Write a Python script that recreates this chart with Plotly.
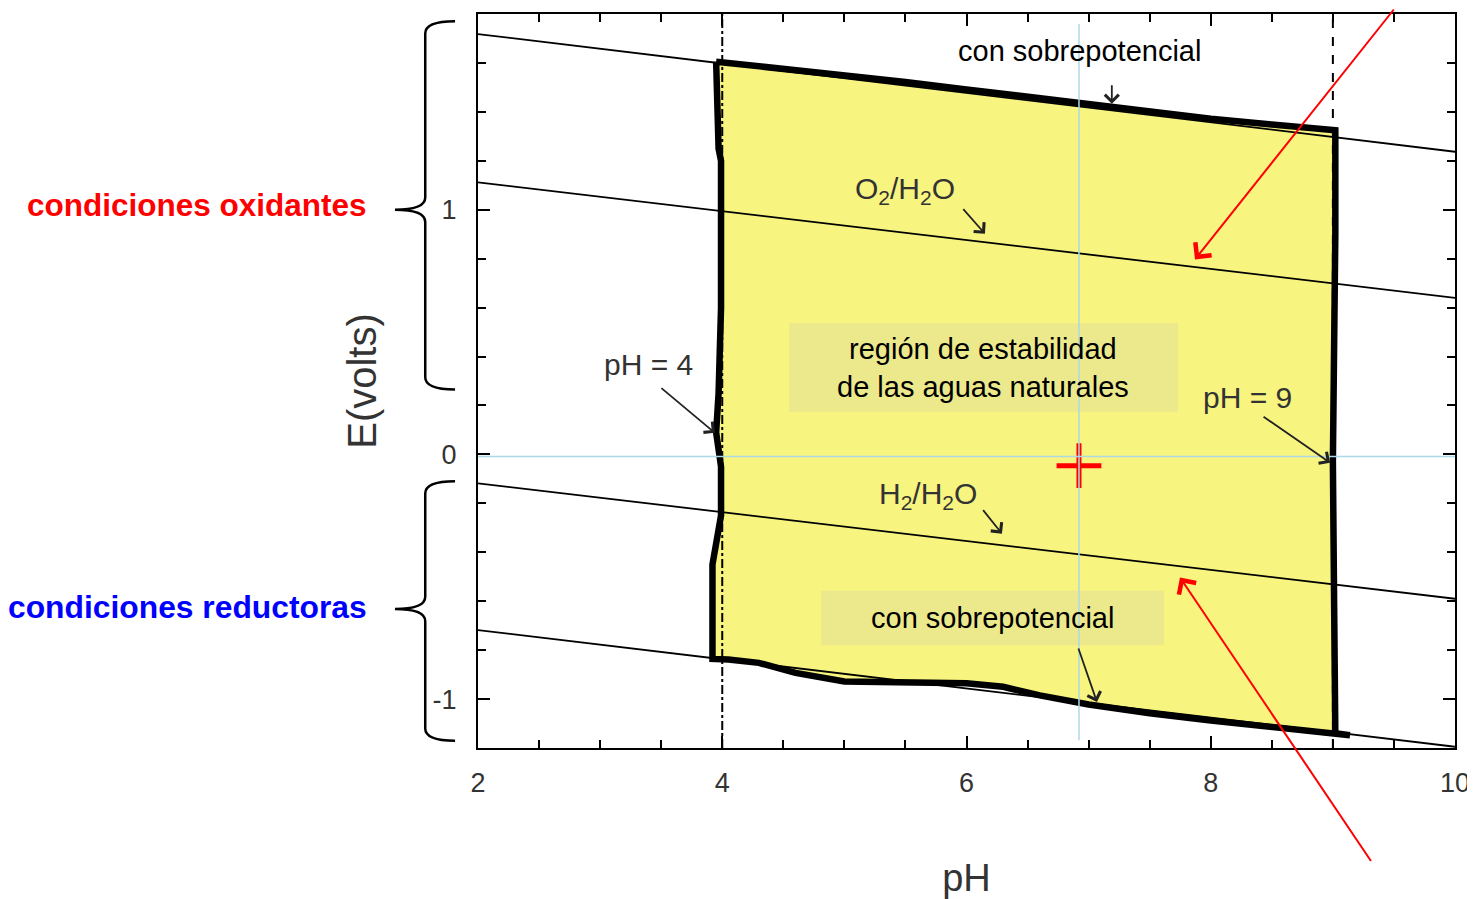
import plotly.graph_objects as go

# ---------------- data (pH, E in volts) ----------------
ph_ends = [2, 10]
e_over_upper = [1.718, 1.237]     # O2 line with overpotential
e_o2_h2o = [1.112, 0.640]         # O2/H2O
e_h2_h2o = [-0.118, -0.590]       # H2/H2O
e_over_lower = [-0.718, -1.195]   # H2 line with overpotential

vertical_ph = [4, 9]
e_axis_span = [-1.2, 1.8]

region_ph = [3.95, 4.5, 5.0, 5.5, 6.0, 6.5, 7.0, 7.5, 8.0, 8.5, 9.02,
             9.02, 9.01, 9.0, 9.01, 9.02, 9.14,
             8.5, 8.0, 7.5, 7.0, 6.6, 6.3, 6.0, 5.5, 5.0, 4.6, 4.3, 4.05, 3.92,
             3.92, 3.99, 3.99, 3.95, 3.97, 3.99, 3.99, 3.97, 3.95]
region_e = [1.605, 1.577, 1.550, 1.522, 1.492, 1.462, 1.430, 1.400, 1.372, 1.348, 1.325,
            0.90, 0.30, -0.03, -0.60, -1.140, -1.148,
            -1.117, -1.088, -1.058, -1.022, -0.985, -0.950, -0.935, -0.932, -0.928, -0.893, -0.852, -0.838, -0.836,
            -0.45, -0.25, -0.05, 0.09, 0.25, 0.60, 1.20, 1.25, 1.605]

x_ticks = [2, 4, 6, 8, 10]
y_ticks = [-1, 0, 1]
y_ticktext = ["-1", "0", "1"]

guide_ph = 6.921
guide_e = -0.009
cross_point = (6.921, -0.046)

YELLOW = "#F8F480"
BOX = "#ECE98C"
GRAY = "#333333"
FONT = "Liberation Sans, Arial, Helvetica, sans-serif"

fig = go.Figure()

# yellow stability region
fig.add_trace(go.Scatter(x=region_ph, y=region_e, mode="lines", fill="toself",
                         fillcolor=YELLOW, line=dict(width=0), hoverinfo="skip"))
# thin boundary lines
for e in [e_over_upper, e_o2_h2o, e_h2_h2o, e_over_lower]:
    fig.add_trace(go.Scatter(x=ph_ends, y=e, mode="lines",
                             line=dict(color="black", width=1.8), hoverinfo="skip"))
# vertical pH limits
fig.add_trace(go.Scatter(x=[vertical_ph[0]] * 2, y=e_axis_span, mode="lines",
                         line=dict(color="black", width=2, dash="dashdot"), hoverinfo="skip"))
fig.add_trace(go.Scatter(x=[vertical_ph[1]] * 2, y=e_axis_span, mode="lines",
                         line=dict(color="black", width=2, dash="dash"), hoverinfo="skip"))
# thick outline
fig.add_trace(go.Scatter(x=region_ph, y=region_e, mode="lines",
                         line=dict(color="black", width=6.5), hoverinfo="skip"))
# red cross marker
fig.add_trace(go.Scatter(x=[cross_point[0]], y=[cross_point[1]], mode="markers",
                         marker=dict(symbol="cross-thin", size=32, color="red",
                                     line=dict(color="red", width=5)), hoverinfo="skip"))

# ---------------- shapes ----------------
shapes = []
# label boxes
shapes.append(dict(type="rect", xref="x", yref="y", x0=4.547, x1=7.732, y0=0.174, y1=0.536,
                   fillcolor=BOX, line=dict(width=0), layer="above"))
shapes.append(dict(type="rect", xref="x", yref="y", x0=4.809, x1=7.617, y0=-0.780, y1=-0.556,
                   fillcolor=BOX, line=dict(width=0), layer="above"))
# light-blue guides
shapes.append(dict(type="line", xref="x", yref="y", x0=guide_ph, x1=guide_ph, y0=-1.168, y1=1.759,
                   line=dict(color="#ADD8E6", width=1.5), layer="above"))
shapes.append(dict(type="line", xref="x", yref="y", x0=2, x1=10, y0=guide_e, y1=guide_e,
                   line=dict(color="#ADD8E6", width=1.5), layer="above"))


def brace(y_top, y_bot, y_mid, xr=-0.0235, xs=-0.054, xt=-0.085, dy=0.05):
    p = (f"M {xr},{y_top} Q {xs},{y_top} {xs},{y_top - dy} "
         f"L {xs},{y_mid + dy} Q {xs},{y_mid} {xt},{y_mid} "
         f"Q {xs},{y_mid} {xs},{y_mid - dy} "
         f"L {xs},{y_bot + dy} Q {xs},{y_bot} {xr},{y_bot}")
    return dict(type="path", xref="paper", yref="y", path=p,
                line=dict(color="black", width=2.5), layer="above")


shapes.append(brace(1.77, 0.265, 1.0))
shapes.append(brace(-0.11, -1.17, -0.632))

# ---------------- annotations ----------------
ann = []


def label(text, x, y, size=30, color=GRAY, **kw):
    ann.append(dict(text=text, x=x, y=y, xref="x", yref="y", showarrow=False,
                    font=dict(family=FONT, size=size, color=color), **kw))


def arrow(x, y, ax, ay, color="#222222", width=1.8, head=4, size=1.5):
    ann.append(dict(text="", x=x, y=y, xref="x", yref="y", ax=ax, ay=ay,
                    showarrow=True, arrowhead=head, arrowsize=size,
                    arrowwidth=width, arrowcolor=color))


label("con sobrepotencial", 6.929, 1.649, size=29, color="black")
label("O<sub>2</sub>/H<sub>2</sub>O", 5.496, 1.080)
label("pH = 4", 3.40, 0.369)
label("pH = 9", 8.297, 0.231)
label("H<sub>2</sub>/H<sub>2</sub>O", 5.685, -0.168)
label("región de estabilidad<br>de las aguas naturales", 6.139, 0.355, size=29, color="black")
label("con sobrepotencial", 6.213, -0.668, size=29, color="black")

arrow(7.19, 1.433, 0, -20)
arrow(6.151, 0.902, -23, -26)
arrow(3.94, 0.088, -55, -46)
arrow(8.977, -0.034, -68, -47)
arrow(6.29, -0.324, -20, -25)
arrow(7.068, -1.012, -19, -55)
# red arrows
arrow(7.871, 0.797, 200, -258, color="red", width=2, head=4, size=2)
arrow(7.748, -0.503, 192, 285, color="red", width=2, head=4, size=2)

ann.append(dict(text="<b>condiciones oxidantes</b>", xref="paper", yref="y", x=-0.1116, y=1.021,
                xanchor="right", yanchor="middle", showarrow=False,
                font=dict(family=FONT, size=31.5, color="#FF0000")))
ann.append(dict(text="<b>condiciones reductoras</b>", xref="paper", yref="y", x=-0.1116, y=-0.625,
                xanchor="right", yanchor="middle", showarrow=False,
                font=dict(family=FONT, size=31.8, color="#0000FF")))

axis_common = dict(showline=True, linecolor="black", linewidth=2, mirror="ticks",
                   ticks="inside", ticklen=12, tickwidth=2, tickcolor="black",
                   showgrid=False, zeroline=False,
                   tickfont=dict(family=FONT, size=27, color=GRAY))

# the page body has an 8px margin, so the figure is offset by 8px
fig.update_layout(
    width=1467, height=891,
    margin=dict(l=470, r=20, t=4, b=151),
    paper_bgcolor="white", plot_bgcolor="white",
    showlegend=False,
    shapes=shapes, annotations=ann,
    xaxis=dict(range=[2, 10], tickvals=x_ticks, ticklabelstandoff=10,
               minor=dict(ticks="inside", ticklen=8, tickwidth=1.5, dtick=0.5, tick0=0,
                          tickcolor="black", showgrid=False),
               title=dict(text="pH", standoff=68, font=dict(family=FONT, size=38, color=GRAY)),
               **axis_common),
    yaxis=dict(range=[-1.2, 1.8], tickvals=y_ticks, ticktext=y_ticktext, ticklabelstandoff=14,
               minor=dict(ticks="inside", ticklen=8, tickwidth=1.5, dtick=0.2, tick0=0,
                          tickcolor="black", showgrid=False),
               title=dict(text="E(volts)", standoff=44, font=dict(family=FONT, size=40, color=GRAY)),
               **axis_common),
)

fig.write_html("out.html")
